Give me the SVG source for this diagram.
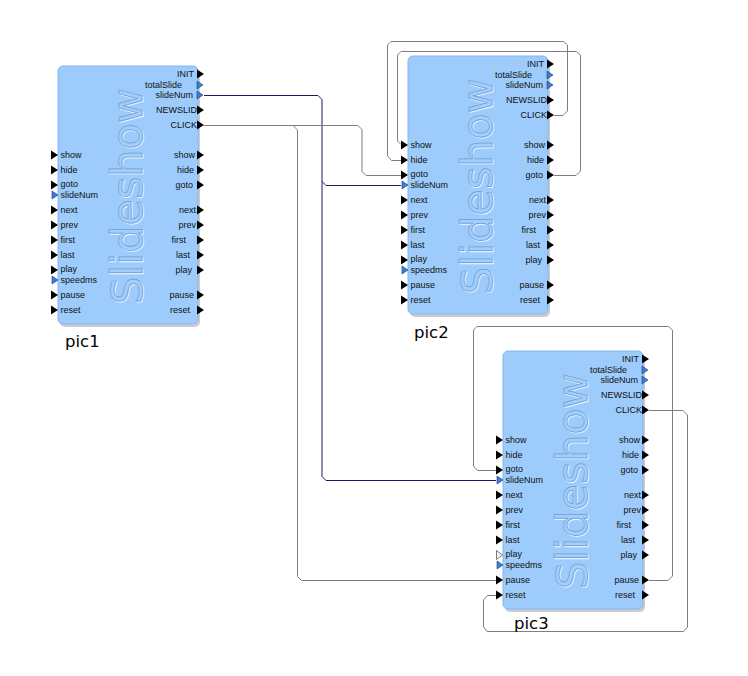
<svg xmlns="http://www.w3.org/2000/svg" width="748" height="676" viewBox="0 0 748 676">
<defs>
<style>
.bg{fill:#ffffff}
.body{fill:#9dcbfb;stroke:#86b7ea;stroke-width:1}
.shadow{fill:#8a8f99;opacity:0.45}
.wm{font-family:"DejaVu Sans",sans-serif;font-size:43px;text-anchor:middle;fill:#a3cefc;stroke:#6f9fd4;stroke-width:0.7}
.wmh{font-family:"DejaVu Sans",sans-serif;font-size:43px;text-anchor:middle;fill:none;stroke:#eaf5ff;stroke-width:0.9}
.o{font-family:"Liberation Sans",Arial,sans-serif;font-size:9px;fill:#111;text-anchor:end}
.i{font-family:"Liberation Sans",Arial,sans-serif;font-size:9px;fill:#111}
.pb{fill:#000}
.pu{fill:#3a7fd6;stroke:#1c3e7a;stroke-width:0.6}
.pw{fill:#f4f4f4;stroke:#555;stroke-width:0.8}
.name{font-family:"DejaVu Sans",sans-serif;font-size:16.5px;fill:#000}
.w{fill:none;stroke:#7f7f7f;stroke-width:1}
.wd{fill:none;stroke:#1a1a66;stroke-width:1}
</style>
</defs>
<rect class="bg" x="0" y="0" width="748" height="676"/>

<g id="connectors">
<path class="wd" d="M204,95.5 H318 L322,99.5 V476.5 L326,480.5 H496"/>
<path class="wd" d="M322,181.5 L326,185.5 H401"/>
<path class="w" d="M204,125.5 H358 L362,129.5 V171.5 L366,175.5 H401"/>
<path class="w" d="M293,125.5 L297.5,130 V576.5 L301.5,580.5 H496"/>
<path class="w" d="M554,115.5 H563 L567.5,111 V45 L563.5,41.5 H391 L387.5,45 V156 L391.5,160.5 H401"/>
<path class="w" d="M554,175.5 H576 L580.5,171 V55 L576.5,51.5 H401 L397.5,55 V141 L401,144.5"/>
<path class="w" d="M649,580.5 H668 L672.5,576 V330 L668.5,326.5 H477 L473.5,330 V466 L477.5,470.5 H496"/>
<path class="w" d="M649,410.5 H683 L687.5,415 V627 L683.5,631.5 H487 L483.5,627 V600 L487.5,595.5 H496"/>
</g>

<g id="pic1" transform="translate(58,66)">
<rect class="shadow" x="2" y="3" width="140" height="258" rx="5"/>
<rect class="body" x="0" y="0" width="140" height="258" rx="5"/>
<text class="wmh" transform="translate(84.5,131) rotate(-90)">Slideshow</text>
<text class="wm" transform="translate(83.5,130) rotate(-90)">Slideshow</text>
<path class="pb" d="M139,3.5 L146,8 L139,12.5Z M139,39.5 L146,44 L139,48.5Z M139,54.5 L146,59 L139,63.5Z M139,84.5 L146,89 L139,93.5Z M139,99.5 L146,104 L139,108.5Z M139,114.5 L146,119 L139,123.5Z M139,139.5 L146,144 L139,148.5Z M139,154.5 L146,159 L139,163.5Z M139,169.5 L146,174 L139,178.5Z M139,184.5 L146,189 L139,193.5Z M139,199.5 L146,204 L139,208.5Z M139,224.5 L146,229 L139,233.5Z M139,239.5 L146,244 L139,248.5Z"/>
<path class="pu" d="M139,15 L145,19 L139,23Z M139,25 L145,29 L139,33Z"/>
<path class="pb" d="M-7,84.5 L0,89 L-7,93.5Z M-7,99.5 L0,104 L-7,108.5Z M-7,114.5 L0,119 L-7,123.5Z M-7,139.5 L0,144 L-7,148.5Z M-7,154.5 L0,159 L-7,163.5Z M-7,169.5 L0,174 L-7,178.5Z M-7,184.5 L0,189 L-7,193.5Z M-7,199.5 L0,204 L-7,208.5Z M-7,224.5 L0,229 L-7,233.5Z M-7,239.5 L0,244 L-7,248.5Z"/>
<path class="pu" d="M-6,125 L0,129 L-6,133Z M-6,210 L0,214 L-6,218Z"/>
<text class="o" x="136" y="11">INIT</text>
<text class="o" x="124" y="22">totalSlide</text>
<text class="o" x="135" y="32">slideNum</text>
<text class="o" x="139" y="47">NEWSLID</text>
<text class="o" x="139" y="62">CLICK</text>
<text class="o" x="137" y="92">show</text>
<text class="o" x="136" y="107">hide</text>
<text class="o" x="135" y="122">goto</text>
<text class="o" x="138" y="147">next</text>
<text class="o" x="138" y="162">prev</text>
<text class="o" x="128" y="177">first</text>
<text class="o" x="132" y="192">last</text>
<text class="o" x="134" y="207">play</text>
<text class="o" x="136" y="232">pause</text>
<text class="o" x="132" y="247">reset</text>
<text class="i" x="2.5" y="92">show</text>
<text class="i" x="2.5" y="107">hide</text>
<text class="i" x="2.5" y="121">goto</text>
<text class="i" x="2.5" y="131.5">slideNum</text>
<text class="i" x="2.5" y="147">next</text>
<text class="i" x="2.5" y="162">prev</text>
<text class="i" x="2.5" y="177">first</text>
<text class="i" x="2.5" y="192">last</text>
<text class="i" x="2.5" y="206">play</text>
<text class="i" x="2.5" y="216.5">speedms</text>
<text class="i" x="2.5" y="232">pause</text>
<text class="i" x="2.5" y="247">reset</text>
<text class="name" x="7" y="281">pic1</text>
</g>

<g id="pic2" transform="translate(408,56)">
<rect class="shadow" x="2" y="3" width="140" height="258" rx="5"/>
<rect class="body" x="0" y="0" width="140" height="258" rx="5"/>
<text class="wmh" transform="translate(84.5,131) rotate(-90)">Slideshow</text>
<text class="wm" transform="translate(83.5,130) rotate(-90)">Slideshow</text>
<path class="pb" d="M139,3.5 L146,8 L139,12.5Z M139,39.5 L146,44 L139,48.5Z M139,54.5 L146,59 L139,63.5Z M139,84.5 L146,89 L139,93.5Z M139,99.5 L146,104 L139,108.5Z M139,114.5 L146,119 L139,123.5Z M139,139.5 L146,144 L139,148.5Z M139,154.5 L146,159 L139,163.5Z M139,169.5 L146,174 L139,178.5Z M139,184.5 L146,189 L139,193.5Z M139,199.5 L146,204 L139,208.5Z M139,224.5 L146,229 L139,233.5Z M139,239.5 L146,244 L139,248.5Z"/>
<path class="pu" d="M139,15 L145,19 L139,23Z M139,25 L145,29 L139,33Z"/>
<path class="pb" d="M-7,84.5 L0,89 L-7,93.5Z M-7,99.5 L0,104 L-7,108.5Z M-7,114.5 L0,119 L-7,123.5Z M-7,139.5 L0,144 L-7,148.5Z M-7,154.5 L0,159 L-7,163.5Z M-7,169.5 L0,174 L-7,178.5Z M-7,184.5 L0,189 L-7,193.5Z M-7,199.5 L0,204 L-7,208.5Z M-7,224.5 L0,229 L-7,233.5Z M-7,239.5 L0,244 L-7,248.5Z"/>
<path class="pu" d="M-6,125 L0,129 L-6,133Z M-6,210 L0,214 L-6,218Z"/>
<text class="o" x="136" y="11">INIT</text>
<text class="o" x="124" y="22">totalSlide</text>
<text class="o" x="135" y="32">slideNum</text>
<text class="o" x="139" y="47">NEWSLID</text>
<text class="o" x="139" y="62">CLICK</text>
<text class="o" x="137" y="92">show</text>
<text class="o" x="136" y="107">hide</text>
<text class="o" x="135" y="122">goto</text>
<text class="o" x="138" y="147">next</text>
<text class="o" x="138" y="162">prev</text>
<text class="o" x="128" y="177">first</text>
<text class="o" x="132" y="192">last</text>
<text class="o" x="134" y="207">play</text>
<text class="o" x="136" y="232">pause</text>
<text class="o" x="132" y="247">reset</text>
<text class="i" x="2.5" y="92">show</text>
<text class="i" x="2.5" y="107">hide</text>
<text class="i" x="2.5" y="121">goto</text>
<text class="i" x="2.5" y="131.5">slideNum</text>
<text class="i" x="2.5" y="147">next</text>
<text class="i" x="2.5" y="162">prev</text>
<text class="i" x="2.5" y="177">first</text>
<text class="i" x="2.5" y="192">last</text>
<text class="i" x="2.5" y="206">play</text>
<text class="i" x="2.5" y="216.5">speedms</text>
<text class="i" x="2.5" y="232">pause</text>
<text class="i" x="2.5" y="247">reset</text>
<text class="name" x="6" y="282">pic2</text>
</g>

<g id="pic3" transform="translate(503,351)">
<rect class="shadow" x="2" y="3" width="140" height="258" rx="5"/>
<rect class="body" x="0" y="0" width="140" height="258" rx="5"/>
<text class="wmh" transform="translate(84.5,131) rotate(-90)">Slideshow</text>
<text class="wm" transform="translate(83.5,130) rotate(-90)">Slideshow</text>
<path class="pb" d="M139,3.5 L146,8 L139,12.5Z M139,39.5 L146,44 L139,48.5Z M139,54.5 L146,59 L139,63.5Z M139,84.5 L146,89 L139,93.5Z M139,99.5 L146,104 L139,108.5Z M139,114.5 L146,119 L139,123.5Z M139,139.5 L146,144 L139,148.5Z M139,154.5 L146,159 L139,163.5Z M139,169.5 L146,174 L139,178.5Z M139,184.5 L146,189 L139,193.5Z M139,199.5 L146,204 L139,208.5Z M139,224.5 L146,229 L139,233.5Z M139,239.5 L146,244 L139,248.5Z"/>
<path class="pu" d="M139,15 L145,19 L139,23Z M139,25 L145,29 L139,33Z"/>
<path class="pb" d="M-7,84.5 L0,89 L-7,93.5Z M-7,99.5 L0,104 L-7,108.5Z M-7,114.5 L0,119 L-7,123.5Z M-7,139.5 L0,144 L-7,148.5Z M-7,154.5 L0,159 L-7,163.5Z M-7,169.5 L0,174 L-7,178.5Z M-7,184.5 L0,189 L-7,193.5Z M-7,224.5 L0,229 L-7,233.5Z M-7,239.5 L0,244 L-7,248.5Z"/>
<path class="pw" d="M-6.5,199.5 L-0.5,204 L-6.5,208.5Z"/>
<path class="pu" d="M-6,125 L0,129 L-6,133Z M-6,210 L0,214 L-6,218Z"/>
<text class="o" x="136" y="11">INIT</text>
<text class="o" x="124" y="22">totalSlide</text>
<text class="o" x="135" y="32">slideNum</text>
<text class="o" x="139" y="47">NEWSLID</text>
<text class="o" x="139" y="62">CLICK</text>
<text class="o" x="137" y="92">show</text>
<text class="o" x="136" y="107">hide</text>
<text class="o" x="135" y="122">goto</text>
<text class="o" x="138" y="147">next</text>
<text class="o" x="138" y="162">prev</text>
<text class="o" x="128" y="177">first</text>
<text class="o" x="132" y="192">last</text>
<text class="o" x="134" y="207">play</text>
<text class="o" x="136" y="232">pause</text>
<text class="o" x="132" y="247">reset</text>
<text class="i" x="2.5" y="92">show</text>
<text class="i" x="2.5" y="107">hide</text>
<text class="i" x="2.5" y="121">goto</text>
<text class="i" x="2.5" y="131.5">slideNum</text>
<text class="i" x="2.5" y="147">next</text>
<text class="i" x="2.5" y="162">prev</text>
<text class="i" x="2.5" y="177">first</text>
<text class="i" x="2.5" y="192">last</text>
<text class="i" x="2.5" y="206">play</text>
<text class="i" x="2.5" y="216.5">speedms</text>
<text class="i" x="2.5" y="232">pause</text>
<text class="i" x="2.5" y="247">reset</text>
<text class="name" x="11" y="278">pic3</text>
</g>
</svg>
